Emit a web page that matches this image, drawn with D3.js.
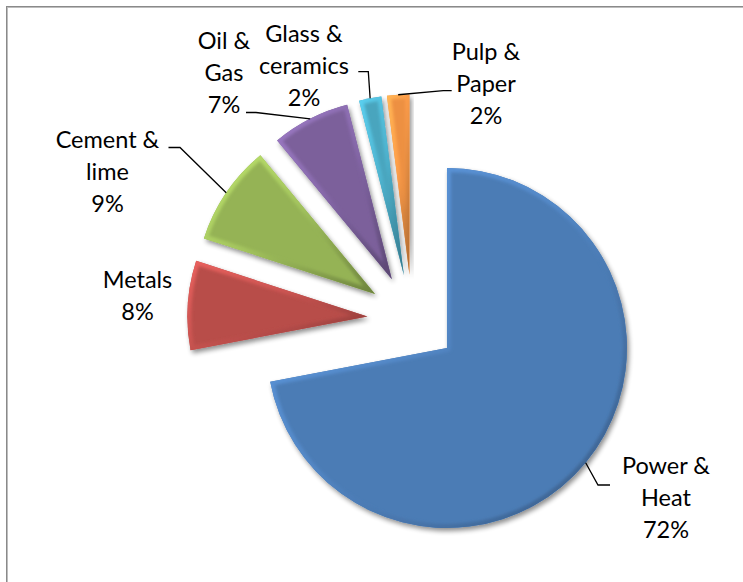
<!DOCTYPE html>
<html><head><meta charset="utf-8">
<script src="https://cdn.jsdelivr.net/npm/d3@7"></script>
<style>html,body{margin:0;padding:0;background:#fff;} svg{display:block;}</style>
</head><body>
<svg id="chart" width="743" height="582"></svg>
<script>
// Emission shares by sector (%)
const categories = ["Power & Heat", "Metals", "Cement & lime", "Oil & Gas", "Glass & ceramics", "Pulp & Paper"];
const shares = [72, 8, 9, 7, 2, 2];
const labelLines = [["Power &", "Heat"], ["Metals"], ["Cement &", "lime"], ["Oil &", "Gas"], ["Glass &", "ceramics"], ["Pulp &", "Paper"]];
const sliceColors = ["#4F81BD", "#C0504D", "#9BBB59", "#8064A2", "#4BACC6", "#F79646"];

// Layout
const W = 743, H = 582;
const center = [412.3, 319.3];
const radius = 180;
const explode = 45;
const lineHeight = 32;
const fontSize = 23.5;
// Label placement: text centre x, first baseline, leader elbow and end (null = no leader)
const labelLayout = [
  {x: 666, y: 474, elbow: [598, 485], end: [610, 485]},
  {x: 137.5, y: 287.5, elbow: null},
  {x: 107.5, y: 147.5, elbow: [180, 147.5], end: [168.5, 147.5]},
  {x: 224, y: 48.5, elbow: [256, 112.5], end: [246, 112.5]},
  {x: 304, y: 41.7, elbow: [368.3, 71.7], end: [358.3, 71.7]},
  {x: 486, y: 60, elbow: [443.3, 90.7], end: [451.7, 90.7]}
];

const svg = d3.select("#chart");
const defs = svg.append("defs");

// soft drop shadow under each slice
const sh = defs.append("filter").attr("id", "shadow")
  .attr("x", "-20%").attr("y", "-20%").attr("width", "140%").attr("height", "140%");
sh.append("feGaussianBlur").attr("in", "SourceAlpha").attr("stdDeviation", 2.5).attr("result", "b");
sh.append("feOffset").attr("in", "b").attr("dx", 1.5).attr("dy", 2.5).attr("result", "o");
sh.append("feComponentTransfer").attr("in", "o").attr("result", "s")
  .append("feFuncA").attr("type", "linear").attr("slope", 0.45);
const mg = sh.append("feMerge");
mg.append("feMergeNode").attr("in", "s");
mg.append("feMergeNode").attr("in", "SourceGraphic");

const soft = defs.append("filter").attr("id", "soft");
soft.append("feGaussianBlur").attr("stdDeviation", 1.4);

// chart frame
svg.append("rect").attr("x", 6.5).attr("y", 6.5).attr("width", 900).attr("height", 900)
  .attr("fill", "none").attr("stroke", "#8a8a8a").attr("stroke-width", 1);
svg.append("rect").attr("x", 7.5).attr("y", 7.5).attr("width", 900).attr("height", 900)
  .attr("fill", "none").attr("stroke", "#bdbdbd").attr("stroke-width", 1);

const pie = d3.pie().sort(null).value(d => d);
const arcs = pie(shares);
const arc = d3.arc().innerRadius(0).outerRadius(radius);
const total = d3.sum(shares);
const pct = d3.format(".0%");

function apexOf(a) {
  const mid = (a.startAngle + a.endAngle) / 2;
  return [center[0] + explode * Math.sin(mid), center[1] - explode * Math.cos(mid)];
}

arcs.forEach((a, i) => {
  const base = d3.color(sliceColors[i]);
  const g = defs.append("linearGradient").attr("id", "bev" + i)
    .attr("x1", 0).attr("y1", 0).attr("x2", 1).attr("y2", 1);
  g.append("stop").attr("offset", 0).attr("stop-color", base.brighter(0.55));
  g.append("stop").attr("offset", 0.45).attr("stop-color", base.brighter(0.15));
  g.append("stop").attr("offset", 1).attr("stop-color", base.darker(1.0));
  defs.append("clipPath").attr("id", "clip" + i)
    .append("path").attr("d", arc(a));
});

const slices = svg.append("g").selectAll("g.slice").data(arcs).join("g")
  .attr("class", "slice")
  .attr("transform", d => `translate(${apexOf(d)})`);

slices.append("path").attr("d", arc)
  .attr("fill", (d, i) => d3.color(sliceColors[i]).darker(0.12))
  .attr("filter", "url(#shadow)");

slices.append("g").attr("clip-path", (d, i) => `url(#clip${i})`)
  .append("path").attr("d", arc)
  .attr("fill", "none")
  .attr("stroke", (d, i) => `url(#bev${i})`)
  .attr("stroke-width", 8)
  .attr("stroke-linejoin", "round")
  .attr("filter", "url(#soft)");

// leader lines from the arc midpoint to the label
const leaders = svg.append("g");
arcs.forEach((a, i) => {
  const L = labelLayout[i];
  if (!L.elbow) return;
  const ap = apexOf(a);
  const mid = (a.startAngle + a.endAngle) / 2;
  const start = [ap[0] + radius * Math.sin(mid), ap[1] - radius * Math.cos(mid)];
  leaders.append("path")
    .attr("d", d3.line()([start, L.elbow, L.end]))
    .attr("fill", "none").attr("stroke", "#000").attr("stroke-width", 1.3);
});

// data labels
const labels = svg.append("g")
  .attr("font-family", "Lato, 'Open Sans', sans-serif")
  .attr("font-size", fontSize).attr("fill", "#000").attr("text-anchor", "middle");
arcs.forEach((a, i) => {
  const L = labelLayout[i];
  const lines = labelLines[i].concat([pct(a.data / total)]);
  const t = labels.append("text").attr("x", L.x).attr("y", L.y);
  lines.forEach((s, k) => t.append("tspan").attr("x", L.x).attr("y", L.y + k * lineHeight).text(s));
});
</script>
</body></html>
